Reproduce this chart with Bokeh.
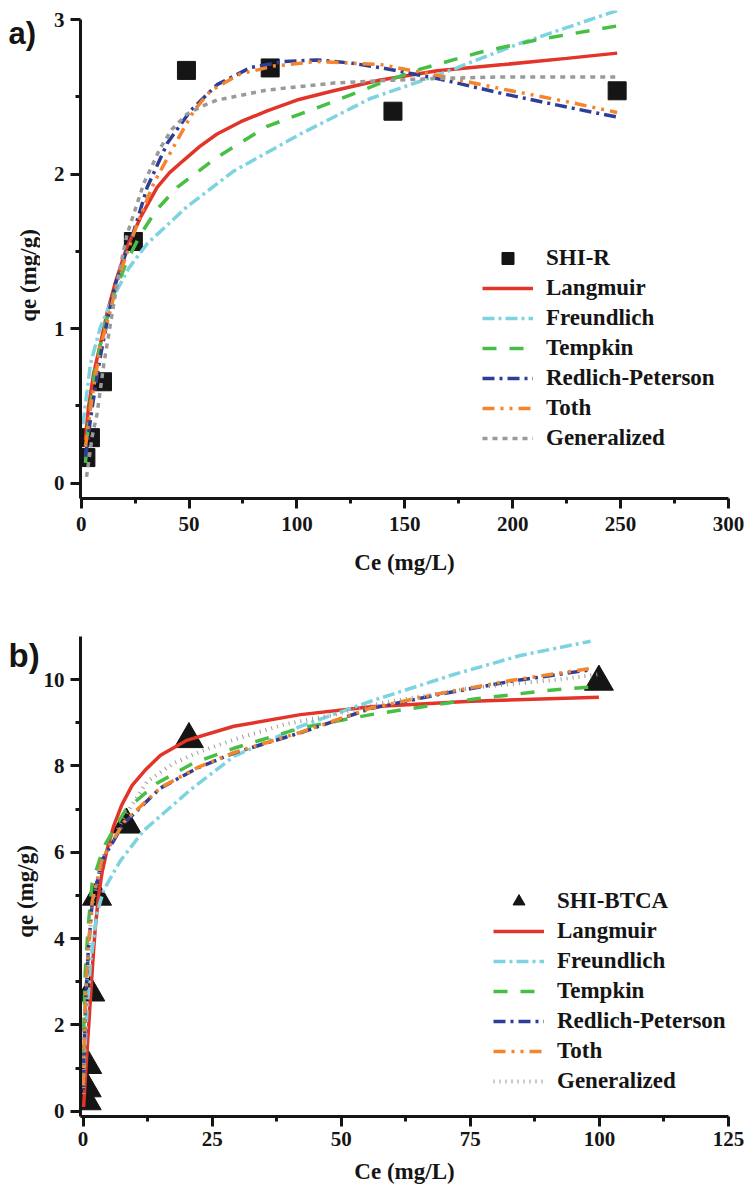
import math
from bokeh.plotting import figure
from bokeh.models import Legend, LegendItem, Range1d, FixedTicker
from bokeh.layouts import column, row
from bokeh.core.properties import value
from bokeh.embed import file_html
from bokeh.resources import INLINE

# ---------------- Panel a data (SHI-R) ----------------
ce_a = [2.2, 4.3, 9.9, 24.2, 48.8, 87.6, 144.5, 248.4]
qe_a = [0.165, 0.294, 0.656, 1.564, 2.672, 2.688, 2.408, 2.54]

lang_a_x = [2.0, 2.5, 3.4, 5.8, 8.9, 12.0, 15.9, 21.0, 27.5, 35.2, 41.0, 47.5, 55.0, 63.0, 74.0, 86.2, 100.0, 117.0, 138.7, 165.0, 195.8, 225.0, 248.4]
lang_a_y = [0.28, 0.36, 0.49, 0.71, 0.90, 1.10, 1.30, 1.52, 1.72, 1.915, 2.01, 2.09, 2.18, 2.26, 2.34, 2.41, 2.48, 2.54, 2.61, 2.67, 2.71, 2.75, 2.784]

freu_a_x = [0.8, 2.8, 4.3, 8.9, 15.1, 22.0, 30.6, 49.1, 70.7, 101.6, 134.0, 165.0, 202.0, 248.4]
freu_a_y = [0.38, 0.60, 0.77, 1.01, 1.21, 1.39, 1.55, 1.79, 2.02, 2.26, 2.49, 2.64, 2.84, 3.06]

temp_a_x = [2.0, 3.5, 6.6, 10.5, 15.1, 21.0, 27.5, 35.0, 44.5, 63.0, 86.2, 117.0, 138.7, 157.2, 185.0, 211.3, 248.4]
temp_a_y = [0.13, 0.41, 0.75, 0.99, 1.22, 1.43, 1.61, 1.77, 1.915, 2.11, 2.31, 2.47, 2.59, 2.68, 2.79, 2.87, 2.96]

rp_a_x = [2.0, 5.1, 8.9, 12.8, 15.9, 20.0, 24.4, 30.6, 39.9, 50.6, 63.0, 78.4, 93.9, 109.4, 124.8, 138.7, 165.0, 195.8, 226.7, 248.4]
rp_a_y = [0.17, 0.49, 0.82, 1.10, 1.29, 1.46, 1.63, 1.915, 2.20, 2.41, 2.58, 2.69, 2.73, 2.74, 2.72, 2.69, 2.62, 2.52, 2.43, 2.37]

toth_a_x = [2.0, 5.1, 8.9, 13.6, 16.7, 21.0, 26.0, 33.6, 44.5, 52.2, 59.9, 73.8, 89.2, 109.4, 138.7, 165.0, 195.8, 226.7, 248.4]
toth_a_y = [0.235, 0.56, 0.88, 1.12, 1.30, 1.48, 1.68, 1.94, 2.22, 2.41, 2.54, 2.65, 2.70, 2.73, 2.71, 2.64, 2.55, 2.465, 2.40]

gen_a_x = [2.5, 5.1, 7.4, 10.5, 14.4, 17.5, 21.3, 29.0, 36.7, 42.0, 49.1, 56.0, 63.0, 86.2, 117.0, 138.7, 165.0, 195.8, 248.4]
gen_a_y = [0.04, 0.30, 0.45, 0.77, 1.10, 1.36, 1.61, 1.94, 2.17, 2.29, 2.39, 2.44, 2.48, 2.545, 2.59, 2.605, 2.62, 2.63, 2.63]

# ---------------- Panel b data (SHI-BTCA) ----------------
ce_b = [0.7, 0.7, 0.8, 1.4, 2.7, 8.4, 20.5, 99.9]
qe_b = [0.23, 0.53, 1.07, 2.75, 4.97, 6.64, 8.62, 9.95]

lang_b_x = [0.1, 0.6, 1.1, 1.6, 2.05, 2.4, 3.0, 3.7, 4.65, 5.9, 7.5, 9.5, 12.0, 15.0, 20.2, 29.2, 42.1, 55.7, 75.1, 99.9]
lang_b_y = [0.1, 1.1, 2.0, 2.95, 3.75, 4.3, 5.0, 5.55, 6.06, 6.6, 7.1, 7.55, 7.9, 8.25, 8.6, 8.92, 9.19, 9.37, 9.50, 9.59]

freu_b_x = [0.15, 0.7, 1.4, 2.7, 4.0, 7.2, 11.7, 16.3, 20.8, 29.2, 42.1, 55.7, 71.8, 84.7, 98.3]
freu_b_y = [1.0, 2.2, 3.4, 4.59, 5.13, 5.80, 6.50, 6.98, 7.45, 8.22, 8.92, 9.50, 10.12, 10.56, 10.89]

temp_b_x = [0.05, 0.15, 0.4, 1.0, 1.75, 4.0, 8.2, 14.3, 21.4, 29.2, 42.1, 55.7, 75.1, 89.9, 98.3]
temp_b_y = [0.6, 2.0, 3.2, 4.3, 5.28, 6.13, 6.98, 7.60, 8.07, 8.41, 8.88, 9.19, 9.54, 9.75, 9.83]

rp_b_x = [0.05, 0.2, 0.5, 1.0, 1.75, 3.7, 7.9, 15.0, 22.1, 29.2, 42.1, 55.7, 68.6, 82.8, 98.3]
rp_b_y = [0.5, 1.5, 2.6, 3.7, 4.82, 5.82, 6.67, 7.49, 7.95, 8.30, 8.77, 9.33, 9.65, 9.96, 10.23]

toth_b_x = [0.05, 0.2, 0.5, 1.0, 1.75, 3.7, 7.9, 15.0, 22.1, 29.2, 42.1, 55.7, 68.6, 82.8, 98.3]
toth_b_y = [0.6, 1.6, 2.7, 3.8, 4.85, 5.85, 6.70, 7.50, 7.96, 8.31, 8.78, 9.34, 9.67, 9.98, 10.26]

gen_b_x = [0.05, 0.2, 0.5, 1.0, 1.75, 3.7, 7.9, 12.4, 17.6, 22.8, 29.2, 38.9, 48.6, 57.6, 75.1, 91.9, 99.6]
gen_b_y = [0.4, 1.4, 2.5, 3.6, 4.75, 5.85, 6.80, 7.64, 8.07, 8.34, 8.61, 8.96, 9.19, 9.45, 9.81, 10.0, 10.12]

model_names = ["Langmuir", "Freundlich", "Tempkin", "Redlich-Peterson", "Toth", "Generalized"]
panel_tags = ["a)", "b)"]
y_title = "qe (mg/g)"
x_title = "Ce (mg/L)"

RED = "#e3342a"
CYAN = "#7dd3df"
GREEN = "#47bf45"
BLUE = "#2d3e99"
ORANGE = "#f5842a"
GRAY = "#9a9a9a"
BLACK = "#151515"
SERIF = "Liberation Serif"
SANS = "Liberation Sans"

SIDE_W = 40
FIG_W = 746 - SIDE_W


def style_axes(p, xt, xm, yt, ym, ybounds, x_std, x_title_std):
    for ax in (p.xaxis, p.yaxis):
        ax.axis_line_width = 3
        ax.axis_line_color = BLACK
        ax.major_tick_line_width = 3
        ax.major_tick_line_color = BLACK
        ax.minor_tick_line_width = 3
        ax.minor_tick_line_color = BLACK
        ax.major_tick_in = 0
        ax.major_tick_out = 10
        ax.minor_tick_in = 0
        ax.minor_tick_out = 5
        ax.major_label_text_font = SERIF
        ax.major_label_text_font_style = "bold"
        ax.major_label_text_font_size = "21px"
        ax.major_label_text_color = BLACK
        ax.axis_label_text_font = SERIF
        ax.axis_label_text_font_style = "bold"
        ax.axis_label_text_font_size = "23px"
        ax.axis_label_text_color = BLACK
    p.xaxis.ticker = FixedTicker(ticks=xt, minor_ticks=xm)
    p.yaxis.ticker = FixedTicker(ticks=yt, minor_ticks=ym)
    p.yaxis.bounds = ybounds
    p.xaxis.major_label_standoff = x_std
    p.yaxis.major_label_standoff = 6
    p.xaxis.axis_label = x_title
    p.xaxis.axis_label_standoff = x_title_std
    p.xgrid.visible = False
    p.ygrid.visible = False
    p.outline_line_color = None


def add_curves(p, xs_list, ys_list, gen_style):
    styles = [
        dict(line_color=RED, line_width=3.5),
        dict(line_color=CYAN, line_width=3.5, line_dash="12 4 3 4"),
        dict(line_color=GREEN, line_width=3.5, line_dash="14 13"),
        dict(line_color=BLUE, line_width=3.5, line_dash="12 5 3 5"),
        dict(line_color=ORANGE, line_width=3.5, line_dash="12 6 3 6 3 6"),
        gen_style,
    ]
    return [p.line(xs, ys, **st) for xs, ys, st in zip(xs_list, ys_list, styles)]


def make_legend(items, loc):
    return Legend(items=items, location=loc, orientation="vertical",
                  padding=0, margin=0, spacing=0,
                  glyph_width=51, glyph_height=30, label_height=30,
                  label_standoff=13, label_text_font=SERIF,
                  label_text_font_style="bold", label_text_font_size="23px",
                  label_text_color=BLACK,
                  border_line_color=None, background_fill_alpha=0)


def side_panel(height, top_border, bottom_border, frame_top, frame_bottom,
               tag, tag_xy, tag_size, title_xy):
    # side strip whose frame matches the main panel frame; y values are page pixels
    s = figure(width=SIDE_W, height=height, output_backend="svg", toolbar_location=None,
               x_range=Range1d(0, SIDE_W), y_range=Range1d(frame_bottom, frame_top),
               x_axis_type=None, y_axis_type=None,
               min_border_left=0, min_border_right=0,
               min_border_top=top_border, min_border_bottom=bottom_border)
    s.outline_line_color = None
    s.xgrid.visible = False
    s.ygrid.visible = False
    s.text(x=[tag_xy[0]], y=[tag_xy[1]], text=[tag], text_font=value(SANS),
           text_font_style="bold", text_font_size=tag_size, text_color=BLACK,
           text_align="left", text_baseline="middle")
    s.text(x=[title_xy[0]], y=[title_xy[1]], text=[y_title], angle=math.pi / 2,
           text_font=value(SERIF), text_font_style="bold", text_font_size="23px",
           text_color=BLACK, text_align="center", text_baseline="middle")
    return s


# ---------------- Panel a ----------------
HA = 592
A_TOP, A_BOT = 10, 498
pa = figure(width=FIG_W, height=HA, output_backend="svg", toolbar_location=None,
            x_range=Range1d(-0.3, 300), y_range=Range1d(-0.1, 3.06),
            min_border_left=80 - SIDE_W, min_border_right=FIG_W - (80 - SIDE_W) - 648,
            min_border_top=A_TOP, min_border_bottom=HA - A_BOT)
style_axes(pa, [0, 50, 100, 150, 200, 250, 300], [25, 75, 125, 175, 225, 275],
           [0, 1, 2, 3], [0.5, 1.5, 2.5], (-0.1, 3.0), 8, 16)
sq = pa.scatter(ce_a, qe_a, marker="square", size=18, fill_color=BLACK, line_color=BLACK)
ra = add_curves(pa,
                [lang_a_x, freu_a_x, temp_a_x, rp_a_x, toth_a_x, gen_a_x],
                [lang_a_y, freu_a_y, temp_a_y, rp_a_y, toth_a_y, gen_a_y],
                dict(line_color=GRAY, line_width=3.5, line_dash="5 5"))
items_a = [LegendItem(label="SHI-R", renderers=[sq])] + [
    LegendItem(label=n, renderers=[r]) for n, r in zip(model_names, ra)]
pa.add_layout(make_legend(items_a, (402, 45)))
sa = side_panel(HA, A_TOP, HA - A_BOT, A_TOP, A_BOT,
                panel_tags[0], (8, 33), "31px", (28, 275))

# ---------------- Panel b ----------------
HB = 601
TOPB = HA
B_TOP, B_BOT = 636, 1116
pb = figure(width=FIG_W, height=HB, output_backend="svg", toolbar_location=None,
            x_range=Range1d(-0.5, 125), y_range=Range1d(-0.12, 11.0),
            min_border_left=80 - SIDE_W, min_border_right=FIG_W - (80 - SIDE_W) - 648,
            min_border_top=B_TOP - TOPB, min_border_bottom=TOPB + HB - B_BOT)
style_axes(pb, [0, 25, 50, 75, 100, 125], [12.5, 37.5, 62.5, 87.5, 112.5],
           [0, 2, 4, 6, 8, 10], [1, 3, 5, 7, 9], (-0.12, 11.0), 5, 10)
tri = pb.scatter(ce_b, qe_b, marker="triangle", size=29, fill_color=BLACK, line_color=BLACK)
rb = add_curves(pb,
                [lang_b_x, freu_b_x, temp_b_x, rp_b_x, toth_b_x, gen_b_x],
                [lang_b_y, freu_b_y, temp_b_y, rp_b_y, toth_b_y, gen_b_y],
                dict(line_color=GRAY, line_width=4, line_dash="1 5"))
items_b = [LegendItem(label="SHI-BTCA", renderers=[tri])] + [
    LegendItem(label=n, renderers=[r]) for n, r in zip(model_names, rb)]
pb.add_layout(make_legend(items_b, (413, 20)))
sb = side_panel(HB, B_TOP - TOPB, TOPB + HB - B_BOT, B_TOP, B_BOT,
                panel_tags[1], (8, 655), "33px", (25, 891))

layout = column(row(sa, pa), row(sb, pb))
open("out.html", "w").write(file_html(layout, INLINE))
